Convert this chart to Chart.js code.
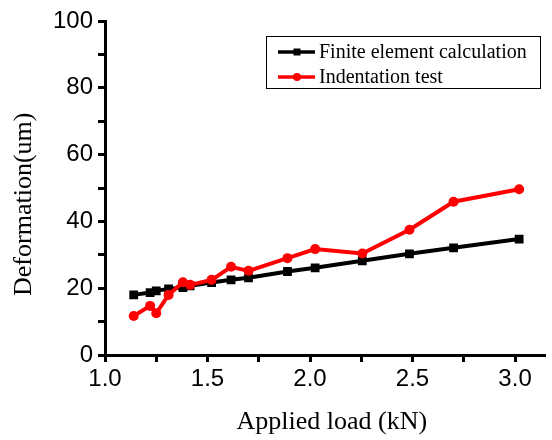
<!DOCTYPE html>
<html>
<head>
<meta charset="utf-8">
<script src="https://cdn.jsdelivr.net/npm/chart.js@4/dist/chart.umd.min.js"></script>
<style>
  html, body { margin: 0; padding: 0; background: #fff; }
  #wrap { width: 552px; height: 440px; }
</style>
</head>
<body>
<div id="wrap"><canvas id="chart"></canvas></div>
<script>
// applied load (kN), shared by both series
const loads = [1.14, 1.22, 1.25, 1.31, 1.38, 1.415, 1.52, 1.615, 1.70, 1.89, 2.025, 2.255, 2.485, 2.70, 3.02];
const feCalc = [18.0, 18.7, 19.2, 19.8, 20.2, 20.7, 21.7, 22.5, 23.1, 25.0, 26.1, 28.2, 30.3, 32.1, 34.7];
const indentTest = [11.7, 14.7, 12.5, 18.0, 21.8, 21.0, 22.5, 26.4, 25.2, 29.0, 31.7, 30.4, 37.5, 45.9, 49.6];
const xTicks = [1.0, 1.25, 1.5, 1.75, 2.0, 2.25, 2.5, 2.75, 3.0];
const xMajor = [1.0, 1.5, 2.0, 2.5, 3.0];
const yMajor = [0, 20, 40, 60, 80, 100];

const tickFont = { family: "'Liberation Sans', Arial, sans-serif", size: 24 };
const titleFont = { family: "'Liberation Serif', 'Times New Roman', serif", size: 26, lineHeight: 1 };

function toPoints(ys) {
    return loads.map((x, i) => ({ x, y: ys[i] }));
}

// boxed legend in the upper right of the plot
const boxLegend = {
    id: 'boxLegend',
    afterDraw(chart) {
        const ctx = chart.ctx;
        ctx.save();
        ctx.strokeStyle = '#000';
        ctx.lineWidth = 1;
        ctx.strokeRect(266.5, 36.5, 274, 52);
        ctx.font = "20px 'Liberation Serif', 'Times New Roman', serif";
        ctx.textBaseline = 'middle';
        const rows = [52, 77];
        chart.data.datasets.forEach((ds, i) => {
            const y = rows[i];
            ctx.strokeStyle = ds.borderColor;
            ctx.lineWidth = 3.5;
            ctx.beginPath();
            ctx.moveTo(278, y);
            ctx.lineTo(315, y);
            ctx.stroke();
            ctx.fillStyle = ds.borderColor;
            ctx.beginPath();
            if (ds.pointStyle === 'rect') ctx.rect(293.5, y - 3.5, 7, 7);
            else ctx.arc(297, y, 4, 0, Math.PI * 2);
            ctx.fill();
            ctx.fillStyle = '#000';
            ctx.fillText(ds.label, 319, y + 1);
        });
        ctx.restore();
    }
};

new Chart(document.getElementById('chart'), {
    type: 'line',
    data: {
        datasets: [{
            label: 'Finite element calculation',
            data: toPoints(feCalc),
            borderColor: '#000',
            backgroundColor: '#000',
            borderWidth: 4,
            pointStyle: 'rect',
            pointRadius: 6.2,
            pointBorderWidth: 0,
            order: 2
        }, {
            label: 'Indentation test',
            data: toPoints(indentTest),
            borderColor: '#ff0000',
            backgroundColor: '#ff0000',
            borderWidth: 4,
            pointStyle: 'circle',
            pointRadius: 5,
            pointBorderWidth: 0,
            order: 1
        }]
    },
    options: {
        responsive: true,
        maintainAspectRatio: false,
        animation: false,
        layout: { padding: { left: 0, right: 2, top: 21, bottom: 0 } },
        plugins: { legend: { display: false }, tooltip: { enabled: false } },
        scales: {
            x: {
                type: 'linear',
                min: 1.0,
                max: 3.15,
                afterBuildTicks: s => { s.ticks = xTicks.map(v => ({ value: v })); },
                afterFit: s => { s.height = 85; },
                ticks: {
                    color: '#000',
                    font: tickFont,
                    padding: 3,
                    maxRotation: 0,
                    autoSkip: false,
                    callback: v => xMajor.some(m => Math.abs(m - v) < 1e-6) ? v.toFixed(1) : ''
                },
                grid: { drawOnChartArea: false, drawTicks: true, tickLength: 7, tickWidth: 3, tickColor: '#000' },
                border: { display: true, width: 3, color: '#000' },
                title: { display: true, text: '  Applied load (kN)', color: '#000', font: titleFont, padding: { top: 0, bottom: 5 } }
            },
            y: {
                min: 0,
                max: 100,
                afterFit: s => { s.width = 105; },
                ticks: {
                    stepSize: 10,
                    color: '#000',
                    font: tickFont,
                    padding: 5,
                    autoSkip: false,
                    callback: v => yMajor.includes(v) ? String(v) : ''
                },
                grid: { drawOnChartArea: false, drawTicks: true, tickLength: 7, tickWidth: 3, tickColor: '#000' },
                border: { display: true, width: 3, color: '#000' },
                title: { display: true, text: 'Deformation(um)     ', color: '#000', font: titleFont, padding: { top: 11, bottom: 0 } }
            }
        }
    },
    plugins: [boxLegend]
});
</script>
</body>
</html>
